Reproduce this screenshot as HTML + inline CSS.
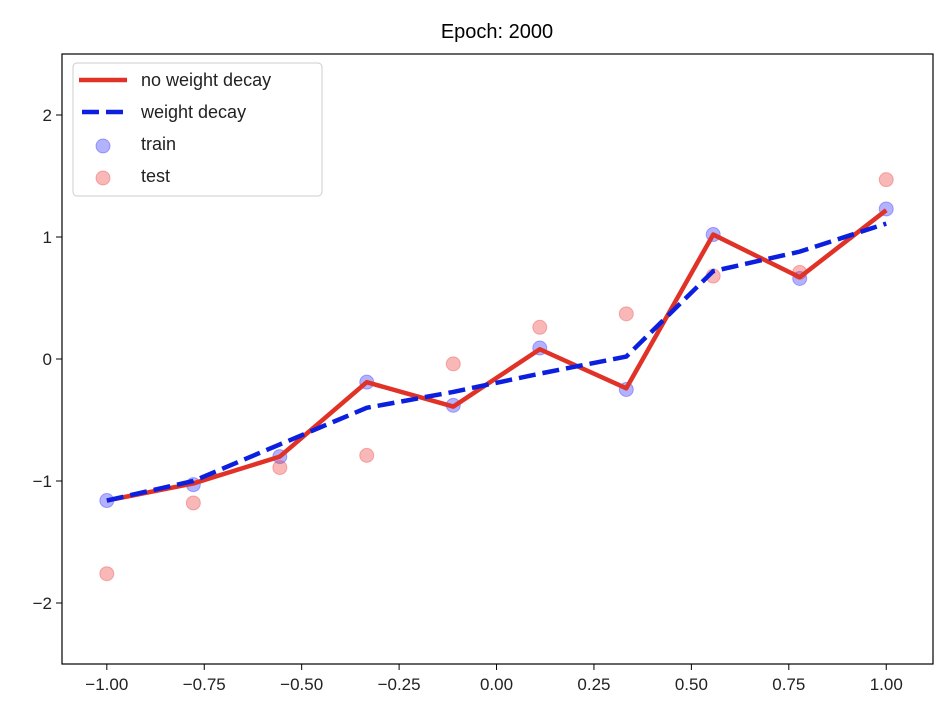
<!DOCTYPE html>
<html><head><meta charset="utf-8"><style>
body{margin:0;background:#fff;}
svg{display:block;font-family:"Liberation Sans","DejaVu Sans",sans-serif;}
</style></head><body>
<svg id="chart" width="952" height="722"></svg>
<script>
const xs = [-1, -0.778, -0.556, -0.333, -0.111, 0.111, 0.333, 0.556, 0.778, 1];
const trainY = [-1.16, -1.03, -0.80, -0.19, -0.38, 0.09, -0.25, 1.02, 0.66, 1.23];
const testY = [-1.76, -1.18, -0.89, -0.79, -0.04, 0.26, 0.37, 0.68, 0.71, 1.47];
const noDecayY = [-1.16, -1.02, -0.80, -0.19, -0.39, 0.08, -0.24, 1.02, 0.67, 1.22];
const decayY = [-1.16, -1.0, -0.70, -0.40, -0.27, -0.12, 0.02, 0.72, 0.88, 1.11];
const xTicks = [-1, -0.75, -0.5, -0.25, 0, 0.25, 0.5, 0.75, 1];
const xTickLabels = ["\u22121.00","\u22120.75","\u22120.50","\u22120.25","0.00","0.25","0.50","0.75","1.00"];
const yTicks = [-2, -1, 0, 1, 2];
const yTickLabels = ["\u22122","\u22121","0","1","2"];

const L=62,R=933,T=54,B=664;
const X=v=>L+(v+1.115)/(2.235)*(R-L);
const Y=v=>T+(2.5-v)/5*(B-T);
const svg=document.getElementById('chart');
const NS='http://www.w3.org/2000/svg';
function mk(tag,attrs,parent){const e=document.createElementNS(NS,tag);for(const k in attrs)e.setAttribute(k,attrs[k]);(parent||svg).appendChild(e);return e;}

let t=mk('text',{x:497,y:38,'text-anchor':'middle','font-size':20,fill:'#000'});t.textContent='Epoch: 2000';



xTicks.forEach((v,i)=>{
  const g=mk('g',{});
  
  
  mk('line',{x1:X(v),x2:X(v),y1:B,y2:B+6,stroke:'#000','stroke-width':1},g);
  const tx=mk('text',{x:X(v),y:B+26,'text-anchor':'middle','font-size':17,fill:'#222'},g);tx.textContent=xTickLabels[i];
});
yTicks.forEach((v,i)=>{
  const g=mk('g',{});
  
  
  mk('line',{x1:L-6,x2:L,y1:Y(v),y2:Y(v),stroke:'#000','stroke-width':1},g);
  const tx=mk('text',{x:L-10,y:Y(v)+6,'text-anchor':'end','font-size':17,fill:'#222'},g);tx.textContent=yTickLabels[i];
});

function pts(arr){return xs.map((x,i)=>X(x)+','+Y(arr[i])).join(' ');}
xs.forEach((x,i)=>{
  const c=mk('circle',{cx:X(x),cy:Y(trainY[i]),r:7,fill:'#0000ff','fill-opacity':0.3,stroke:'#0000ff','stroke-opacity':0.3});
  
  
});
xs.forEach((x,i)=>{
  const c=mk('circle',{cx:X(x),cy:Y(testY[i]),r:7,fill:'#ee3333','fill-opacity':0.35,stroke:'#ee3333','stroke-opacity':0.35});
  
  
});
let p=mk('polyline',{points:pts(noDecayY),fill:'none',stroke:'#e03226','stroke-width':4.5,'stroke-linejoin':'round'});


p=mk('polyline',{points:pts(decayY),fill:'none',stroke:'#0a1fe0','stroke-width':4.5,'stroke-dasharray':'17,7'});



const ax=mk('rect',{x:L,y:T,width:R-L,height:B-T,fill:'none',stroke:'#000','stroke-width':1.2});



const lg=mk('g',{});


mk('rect',{x:73,y:63,width:249,height:133,rx:4,fill:'#fff','fill-opacity':0.85,stroke:'#ccc'},lg);
mk('line',{x1:79,x2:127,y1:80,y2:80,stroke:'#e03226','stroke-width':4.5},lg);
mk('line',{x1:82,x2:124,y1:112,y2:112,stroke:'#0a1fe0','stroke-width':4.5,'stroke-dasharray':'17,7'},lg);
mk('circle',{cx:103,cy:146,r:7,fill:'#0000ff','fill-opacity':0.3,stroke:'#0000ff','stroke-opacity':0.3},lg);
mk('circle',{cx:103,cy:178,r:7,fill:'#ee3333','fill-opacity':0.35,stroke:'#ee3333','stroke-opacity':0.35},lg);
[['no weight decay',86],['weight decay',118],['train',150],['test',182]].forEach(([s,y])=>{
  const tx=mk('text',{x:141,y:y,'font-size':18,fill:'#222'},lg);tx.textContent=s;
  
  
});
</script>
</body></html>
